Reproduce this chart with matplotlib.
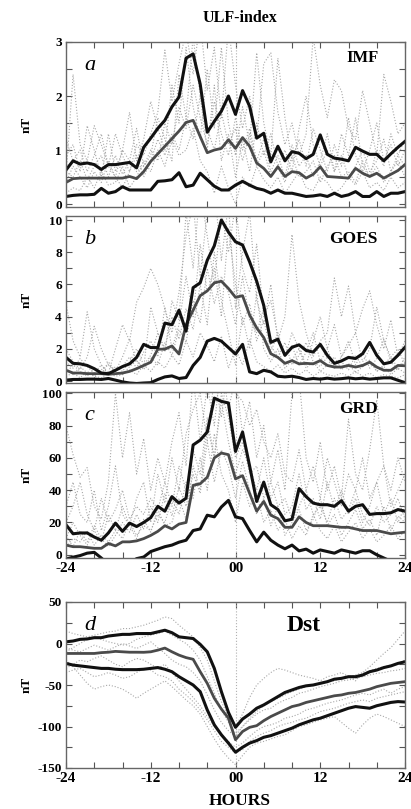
import numpy as np
import matplotlib
matplotlib.use("Agg")
import matplotlib.pyplot as plt
from matplotlib.ticker import MultipleLocator, FuncFormatter

plt.rcParams['font.family'] = ['Liberation Serif', 'DejaVu Serif']
plt.rcParams['axes.unicode_minus'] = False

hours = list(range(-24, 25))

# ---- panel a : IMF ----
imf_upper = [0.63, 0.80, 0.74, 0.76, 0.73, 0.64, 0.73, 0.73, 0.75, 0.77, 0.67, 1.05, 1.22, 1.40, 1.55, 1.80, 1.98,
             2.70, 2.78, 2.22, 1.33, 1.53, 1.72, 2.00, 1.66, 2.10, 1.81, 1.22, 1.31, 0.78, 1.07, 0.80, 0.97, 0.94,
             0.84, 0.92, 1.28, 0.92, 0.85, 0.83, 0.80, 1.05, 0.98, 0.92, 0.92, 0.80, 0.93, 1.05, 1.16]
imf_median = [0.40, 0.47, 0.48, 0.48, 0.48, 0.48, 0.48, 0.48, 0.48, 0.51, 0.47, 0.60, 0.79, 0.93, 1.07, 1.21, 1.35,
              1.51, 1.55, 1.25, 0.95, 1.00, 1.03, 1.19, 1.03, 1.23, 1.07, 0.76, 0.66, 0.51, 0.69, 0.51, 0.60, 0.58,
              0.48, 0.55, 0.69, 0.51, 0.50, 0.49, 0.48, 0.66, 0.57, 0.51, 0.57, 0.48, 0.55, 0.62, 0.73]
imf_lower = [0.14, 0.16, 0.17, 0.17, 0.18, 0.29, 0.20, 0.23, 0.32, 0.26, 0.26, 0.26, 0.26, 0.42, 0.43, 0.45, 0.58,
             0.32, 0.35, 0.57, 0.45, 0.33, 0.26, 0.26, 0.35, 0.42, 0.35, 0.29, 0.26, 0.20, 0.26, 0.20, 0.20, 0.17,
             0.14, 0.15, 0.17, 0.14, 0.20, 0.14, 0.17, 0.23, 0.14, 0.14, 0.23, 0.14, 0.20, 0.20, 0.23]
imf_ev1 = [0.5, 2.4, 1.1, 0.8, 1.45, 1.1, 0.7, 1.3, 0.9, 0.6, 1.1, 0.9, 1.3, 1.7, 2.85, 1.9, 2.6, 3.2, 2.4, 3.4,
           2.1, 2.9, 1.6, 3.3, 2.2, 1.4, 2.0, 1.2, 2.6, 2.8, 1.7, 1.1, 1.5, 0.9, 1.3, 3.1, 2.2, 1.6, 2.3, 2.1, 1.4,
           1.2, 2.1, 1.5, 0.9, 2.4, 1.9, 1.3, 1.5]
imf_ev2 = [0.9, 1.1, 0.6, 1.45, 1.0, 0.5, 1.3, 0.6, 1.0, 1.7, 0.8, 1.2, 1.9, 1.4, 1.0, 2.2, 1.5, 2.9, 1.8, 1.2,
           2.5, 1.4, 2.9, 1.5, 0.9, 1.8, 1.1, 2.8, 1.5, 0.9, 2.7, 1.6, 0.8, 1.2, 0.7, 1.4, 1.0, 0.6, 1.1, 0.7, 1.6,
           0.9, 0.6, 1.0, 1.5, 0.8, 1.1, 0.7, 1.0]
imf_ev3 = [0.2, 0.3, 0.25, 0.5, 0.3, 0.6, 0.35, 0.4, 0.7, 0.3, 0.5, 0.8, 0.6, 1.0, 0.7, 1.2, 0.9, 1.0, 1.4, 0.8,
           0.6, 0.2, 0.7, 0.3, 0.0, 0.5, 0.3, 0.7, 0.45, 0.3, 0.5, 0.2, 0.4, 0.6, 0.3, 0.25, 0.5, 0.4, 0.2, 0.3,
           0.5, 0.35, 0.6, 0.3, 0.4, 0.25, 0.5, 0.3, 0.4]
imf_ev4 = [0.6, 0.5, 0.8, 0.45, 0.7, 0.9, 0.5, 0.9, 0.55, 0.8, 0.6, 0.7, 1.0, 0.8, 1.5, 1.1, 1.8, 1.4, 2.2, 1.6,
           1.1, 1.9, 1.3, 0.9, 1.6, 1.0, 1.4, 0.8, 1.2, 0.6, 0.9, 0.5, 1.1, 0.7, 0.9, 0.5, 0.8, 1.3, 0.6, 0.9, 0.5,
           0.7, 1.0, 0.6, 0.8, 1.2, 0.6, 0.9, 0.7]
imf_ev5 = [0.4, 0.7, 0.5, 0.3, 0.6, 0.4, 0.8, 0.5, 0.3, 0.6, 0.9, 0.5, 0.8, 1.2, 0.9, 1.3, 1.0, 1.6, 1.2, 2.0,
           1.4, 1.0, 1.7, 1.1, 1.4, 0.8, 1.3, 0.7, 1.0, 0.5, 0.7, 0.4, 0.9, 0.5, 0.6, 0.8, 0.4, 0.7, 0.9, 0.5, 0.6,
           0.4, 0.8, 0.5, 0.7, 0.4, 0.6, 0.8, 0.5]
imf_ev6 = [1.2, 0.8, 1.0, 0.6, 0.9, 1.3, 0.7, 0.5, 1.0, 0.8, 1.4, 0.7, 0.9, 1.6, 1.2, 0.8, 2.4, 1.6, 3.1, 2.0,
           1.0, 2.2, 0.8, 1.3, 0.5, 1.2, 0.6, 1.5, 0.9, 1.3, 0.7, 1.0, 0.6, 1.4, 2.0, 1.1, 0.7, 1.0, 0.6, 1.3, 0.9,
           1.6, 0.7, 0.5, 1.0, 0.7, 1.3, 0.9, 1.2]

# ---- panel b : GOES ----
goes_upper = [1.47, 1.10, 1.07, 0.97, 0.77, 0.50, 0.46, 0.67, 0.90, 1.07, 1.47, 2.28, 2.08, 2.08, 3.60, 3.50, 4.40,
              3.10, 5.80, 6.10, 7.50, 8.40, 10.0, 9.25, 8.65, 8.45, 7.40, 6.20, 4.70, 2.40, 2.60, 1.60, 2.10, 2.25,
              1.90, 1.80, 2.28, 1.60, 1.10, 1.25, 1.47, 1.40, 1.70, 2.40, 1.60, 1.07, 1.17, 1.60, 2.10]
goes_median = [0.67, 0.50, 0.50, 0.46, 0.46, 0.46, 0.42, 0.46, 0.50, 0.60, 0.77, 0.97, 1.17, 1.98, 1.98, 2.18, 1.68,
               3.50, 4.40, 5.30, 5.60, 6.10, 6.20, 5.75, 5.20, 5.30, 4.10, 3.30, 2.70, 1.70, 1.47, 1.10, 1.27, 1.07,
               1.10, 1.07, 1.27, 0.97, 0.87, 0.87, 0.97, 0.87, 0.97, 1.17, 0.87, 0.67, 0.67, 0.97, 0.95]
goes_lower = [0.06, 0.10, 0.10, 0.12, 0.12, 0.10, 0.16, 0.06, -0.05, -0.12, -0.15, -0.12, -0.10, 0.10, 0.26, 0.32,
              0.16, 0.22, 0.97, 1.47, 2.48, 2.65, 2.48, 2.08, 1.68, 2.28, 0.57, 0.46, 0.67, 0.57, 0.30, 0.26, 0.30,
              0.22, 0.10, 0.16, 0.12, 0.18, 0.12, 0.15, 0.20, 0.14, 0.18, 0.12, 0.16, 0.20, 0.20, 0.05, -0.10]
goes_ev1 = [4.8, 2.5, 1.5, 4.3, 2.0, 1.0, 0.5, 2.0, 3.5, 2.5, 4.9, 5.8, 7.0, 6.0, 4.5, 3.0, 5.5, 9.0, 11.0, 6.5,
            10.5, 12.0, 7.5, 11.0, 4.5, 8.0, 10.5, 5.0, 3.5, 6.0, 2.5, 4.0, 9.1, 5.0, 3.0, 1.5, 2.5, 3.0, 6.4, 4.0,
            5.9, 3.0, 4.5, 5.6, 3.5, 2.0, 3.8, 1.5, 2.5]
goes_ev2 = [0.5, 1.0, 0.6, 0.3, 0.8, 0.4, 1.2, 0.6, 0.9, 1.5, 0.8, 1.8, 2.5, 1.5, 4.6, 2.0, 3.5, 6.5, 4.0, 8.5,
            5.5, 7.0, 4.0, 9.5, 6.0, 3.5, 4.8, 2.5, 3.8, 1.8, 3.0, 1.5, 2.2, 1.0, 1.8, 3.0, 1.2, 2.0, 0.9, 1.5, 2.5,
            1.0, 1.8, 0.8, 1.4, 2.6, 1.2, 0.7, 1.5]
goes_ev3 = [1.2, 0.8, 1.4, 0.9, 0.5, 1.0, 0.4, 0.9, 0.6, 1.2, 2.0, 1.0, 1.6, 3.0, 2.0, 4.0, 2.6, 4.5, 3.2, 6.0,
            3.5, 8.0, 5.0, 3.0, 1.0, 4.0, 2.0, 5.5, 2.0, 1.2, 2.0, 0.8, 1.3, 2.0, 0.8, 1.2, 0.6, 1.0, 1.5, 0.7, 1.1,
            0.5, 0.9, 1.3, 0.6, 0.9, 0.4, 0.8, 0.5]
goes_ev4 = [0.3, 0.5, 0.2, 0.6, 0.3, 0.2, 0.5, 0.3, 0.4, 0.7, 0.4, 1.0, 0.6, 1.2, 0.8, 1.6, 1.0, 2.5, 1.5, 3.0,
            2.2, 1.2, 2.8, 0.8, 2.0, 1.0, 2.6, 1.2, 0.9, 0.6, 1.0, 0.5, 0.8, 0.4, 0.7, 0.3, 0.6, 0.4, 0.3, 0.5, 0.3,
            0.6, 0.3, 0.5, 0.2, 0.4, 0.3, 0.2, 0.4]
goes_ev5 = [0.8, 0.4, 0.9, 0.5, 0.3, 0.7, 1.0, 0.6, 0.4, 0.9, 1.3, 0.7, 1.5, 1.0, 2.4, 1.6, 3.2, 2.4, 5.0, 3.6,
            7.0, 4.8, 6.5, 5.5, 3.5, 6.5, 3.8, 3.0, 4.5, 2.2, 1.5, 2.4, 1.0, 1.6, 2.4, 1.2, 0.9, 1.5, 0.8, 1.2, 0.7,
            1.6, 0.9, 1.3, 0.6, 1.0, 1.5, 0.8, 1.2]
goes_ev6 = [2.0, 1.2, 0.7, 1.5, 3.4, 2.0, 1.0, 0.6, 1.5, 2.6, 1.2, 0.8, 4.6, 3.0, 1.8, 5.0, 3.8, 10.5, 7.0, 12.0,
            9.0, 6.0, 10.5, 8.0, 11.0, 7.0, 5.5, 8.5, 4.0, 5.0, 2.8, 1.5, 3.0, 2.0, 1.0, 2.5, 4.0, 2.0, 3.5, 1.5, 2.2,
            3.0, 1.2, 2.0, 4.6, 2.5, 1.5, 2.0, 1.0]

# ---- panel c : GRD ----
grd_upper = [18.6, 13, 13.5, 13.5, 11, 9, 13.5, 19.6, 14.5, 19.6, 17.5, 20, 23, 30, 27, 36, 32, 35, 68, 71, 76, 97,
             95, 94, 64, 76, 55, 33, 45, 31, 28, 21, 22, 41, 36, 32, 31, 31, 30, 33.5, 27, 30, 31, 25, 25.5, 25.5,
             26, 28, 27]
grd_median = [6, 5, 5, 4.5, 4, 4, 7, 5.5, 8, 8, 8.6, 10, 12, 14.5, 18, 16, 19, 20, 43, 44, 48, 60, 63, 62, 47, 49,
              38, 27, 33, 24.5, 22.4, 17, 17, 23.5, 20, 18, 18, 18, 17.5, 17, 17, 16, 15, 15, 15, 14, 13, 13.5, 14]
grd_lower = [-2.6, -1.5, -0.5, 1, 1.5, -2, -6, -8, -7, -5, -2.4, -1.4, 2, 3.5, 5, 6, 7.8, 9, 15, 16, 24.5, 23.5,
             29.6, 33.7, 23.5, 22.4, 15, 8, 14, 9, 6, 3.7, 6, 2.4, 3.5, 1, 3, 2, 1, 3, 2, 1, 2.5, 2.5, 0, -2, -4,
             -4.5, -4]
grd_ev1 = [80, 62, 48, 54, 30, 22, 45, 100, 60, 88, 50, 72, 40, 60, 45, 70, 88, 55, 110, 70, 105, 80, 120, 90, 110,
           75, 95, 60, 80, 45, 65, 40, 100, 110, 60, 45, 70, 40, 55, 35, 84, 50, 40, 65, 96, 55, 40, 60, 45]
grd_ev2 = [20, 30, 45, 25, 15, 35, 20, 28, 40, 22, 30, 25, 35, 28, 45, 30, 55, 40, 65, 50, 85, 60, 95, 70, 50, 65,
           55, 40, 60, 35, 45, 25, 30, 50, 28, 35, 22, 45, 28, 40, 25, 35, 20, 30, 45, 25, 35, 20, 30]
grd_ev3 = [5, 10, 8, 15, 6, 12, 8, 15, 10, 20, 12, 18, 15, 25, 20, 35, 25, 45, 35, 60, 40, 75, 50, 40, 20, 45, 30,
           38, 20, 28, 15, 22, 10, 18, 12, 25, 15, 10, 18, 8, 14, 20, 10, 16, 8, 12, 18, 10, 15]
grd_ev4 = [12, 5, 15, 8, 18, 10, 5, 12, 20, 14, 25, 16, 30, 20, 38, 24, 42, 30, 50, 38, 70, 45, 65, 55, 35, 58, 40,
           25, 35, 18, 30, 12, 20, 28, 15, 22, 35, 18, 25, 12, 20, 28, 16, 22, 12, 30, 15, 24, 20]
grd_ev5 = [10, 20, 12, 6, 15, 8, 25, 15, 30, 18, 10, 22, 14, 28, 18, 20, 35, 22, 55, 40, 80, 60, 100, 85, 60, 70,
           50, 55, 35, 45, 30, 35, 22, 30, 40, 25, 30, 20, 35, 22, 28, 40, 25, 18, 30, 20, 25, 35, 22]
grd_ev6 = [30, 45, 25, 20, 40, 15, 30, 55, 25, 18, 35, 45, 20, 50, 32, 60, 40, 75, 90, 100, 70, 110, 85, 120, 100,
           95, 80, 90, 70, 60, 75, 50, 45, 65, 40, 55, 35, 60, 45, 30, 50, 40, 60, 35, 45, 55, 30, 40, 50]

# ---- panel d : Dst ----
dst_upper = [2, 3, 5, 5.5, 7, 7, 9, 10, 11, 11, 12, 12, 12, 14, 16, 13, 8, 7, 6, -1, -10, -30, -58, -83, -101, -91,
             -85, -78, -74, -69, -64, -59, -56, -53, -51, -50, -48, -46, -43, -42, -40, -40, -38, -34, -32, -29, -27,
             -24, -22]
dst_median = [-12, -12, -12, -12, -12, -11, -10.5, -9.5, -10, -10.5, -10.5, -10.6, -10, -8, -5.5, -10, -14, -17,
              -19, -34, -48, -66, -79, -90, -116, -106, -101, -99, -93, -88, -84, -80, -76, -74, -71, -69, -67, -65,
              -63, -62, -60, -59, -57, -55, -52, -50, -48, -47, -46]
dst_lower = [-24, -26, -27, -28, -29, -30, -30, -31, -31.5, -31.5, -31.5, -31, -30, -29, -31, -34, -40, -45, -50,
             -58, -80, -98, -110, -120, -131, -125, -120, -117, -113, -111, -108, -105, -102, -98, -95, -92, -90,
             -87, -84, -81, -78, -76, -77, -78, -75, -73, -71, -70, -70.5]
dst_ev1 = [15, 12, 10, 8, 10, 12, 14, 15, 18, 18, 20, 22, 25, 28, 32, 30, 22, 15, 8, -5, -20, -45, -70, -88, -100,
           -85, -65, -50, -42, -35, -30, -32, -35, -38, -40, -42, -45, -40, -38, -35, -40, -45, -35, -28, -20, -12,
           -5, 5, 15]
dst_ev2 = [-20, -28, -38, -48, -55, -52, -50, -52, -55, -60, -66, -60, -55, -50, -45, -52, -60, -68, -75, -85, -100,
           -115, -128, -138, -146, -135, -125, -120, -118, -115, -112, -110, -105, -100, -98, -95, -92, -90, -88,
           -95, -102, -108, -98, -90, -85, -88, -92, -96, -100]
dst_ev3 = [-5, -8, -10, -6, -2, -5, -8, -4, 0, -3, -6, -2, 2, -5, -12, -20, -25, -28, -35, -45, -62, -80, -95, -105,
           -112, -100, -92, -85, -80, -78, -72, -68, -65, -60, -58, -55, -52, -50, -48, -45, -44, -42, -40, -38, -36,
           -35, -33, -32, -30]
dst_ev4 = [-30, -25, -20, -22, -18, -15, -20, -25, -28, -22, -18, -20, -25, -30, -25, -35, -45, -55, -65, -75, -88,
           -100, -110, -118, -125, -120, -112, -105, -100, -98, -95, -90, -88, -85, -80, -78, -75, -72, -70, -68,
           -65, -62, -60, -62, -58, -55, -60, -55, -52]
dst_ev5 = [-10, -5, 0, 5, 8, 5, 2, 0, -2, 0, 5, 8, 10, 12, 15, 10, 5, 0, -8, -20, -40, -60, -80, -95, -108, -100,
           -90, -82, -75, -70, -66, -62, -58, -55, -52, -50, -48, -46, -45, -42, -40, -38, -35, -33, -30, -28, -26,
           -24, -20]
dst_ev6 = [-35, -32, -30, -35, -40, -38, -35, -38, -42, -40, -35, -30, -32, -38, -40, -45, -55, -62, -70, -80, -92,
           -105, -118, -125, -132, -128, -118, -112, -108, -105, -100, -97, -95, -92, -90, -86, -82, -80, -78, -75,
           -72, -70, -68, -70, -66, -64, -62, -60, -58]

fig = plt.figure(figsize=(4.11, 8.09), dpi=100)

W, H = 411.0, 809.0


def make_axes(top, bottom):
    return fig.add_axes([66 / W, 1 - bottom / H, 339 / W, (bottom - top) / H])


def draw_panel(ax, upper, median, lower, events, ylim, major, minor, letter, name, name_xy, name_size):
    for ev in events:
        ax.plot(hours, ev, color='#a8a8a8', lw=0.8, ls=':')
    ax.axvline(0, color='#b0b0b0', lw=0.8, ls=':')
    ax.plot(hours, median, color='#4a4a4a', lw=2.0)
    ax.plot(hours, upper, color='#111111', lw=2.2)
    ax.plot(hours, lower, color='#111111', lw=2.2)
    ax.set_xlim(-24, 24)
    ax.set_ylim(*ylim)
    ax.xaxis.set_major_locator(MultipleLocator(12))
    ax.xaxis.set_minor_locator(MultipleLocator(4))
    ax.yaxis.set_major_locator(MultipleLocator(major))
    ax.yaxis.set_minor_locator(MultipleLocator(minor))
    ax.tick_params(which='both', direction='in', top=True, right=True, color='#555555')
    ax.tick_params(which='both', length=4, width=0.8)
    ax.tick_params(axis='y', labelsize=9.5, pad=3)
    ax.tick_params(axis='x', labelsize=11, pad=3)
    for lab in ax.get_yticklabels():
        lab.set_fontweight('bold')
    for s in ax.spines.values():
        s.set_color('#666666')
        s.set_linewidth(1.0)
    ax.set_ylabel('nT', fontsize=9.5, fontweight='bold')
    ax.yaxis.set_label_coords(-0.1, 0.5)
    ax.text(0.07, 0.86, letter, transform=ax.transAxes, fontsize=16, fontstyle='italic',
            ha='center', va='center')
    ax.text(name_xy[0], name_xy[1], name, transform=ax.transAxes, fontsize=name_size,
            fontweight='bold', ha='center', va='center')


hour_fmt = FuncFormatter(lambda v, p: '00' if v == 0 else '%d' % v)

ax_a = make_axes(42, 207)
draw_panel(ax_a, imf_upper, imf_median, imf_lower,
           [imf_ev1, imf_ev2, imf_ev3, imf_ev4, imf_ev5, imf_ev6],
           (-0.055, 3.0), 1, 0.5, 'a', 'IMF', (0.876, 0.9), 12)
ax_a.tick_params(axis='x', labelbottom=False)

ax_b = make_axes(216, 383)
draw_panel(ax_b, goes_upper, goes_median, goes_lower,
           [goes_ev1, goes_ev2, goes_ev3, goes_ev4, goes_ev5, goes_ev6],
           (-0.12, 10.25), 2, 1, 'b', 'GOES', (0.847, 0.86), 12.5)
ax_b.tick_params(axis='x', labelbottom=False)

ax_c = make_axes(392, 558)
draw_panel(ax_c, grd_upper, grd_median, grd_lower,
           [grd_ev1, grd_ev2, grd_ev3, grd_ev4, grd_ev5, grd_ev6],
           (-2.0, 100.8), 20, 10, 'c', 'GRD', (0.862, 0.9), 12.5)
ax_c.xaxis.set_major_formatter(hour_fmt)

ax_d = make_axes(602, 768)
draw_panel(ax_d, dst_upper, dst_median, dst_lower,
           [dst_ev1, dst_ev2, dst_ev3, dst_ev4, dst_ev5, dst_ev6],
           (-150, 50), 50, 25, 'd', 'Dst', (0.70, 0.86), 17)
ax_d.xaxis.set_major_formatter(hour_fmt)

for ax in (ax_c, ax_d):
    labs = ax.get_xticklabels()
    for lab in labs:
        lab.set_fontweight('bold')
    # last label sits on the right border, keep it inside the figure
    labs[-1].set_horizontalalignment('right')

fig.text(240 / W, 1 - 18 / H, 'ULF-index', fontsize=11.5, fontweight='bold', ha='center', va='center')
fig.text(240 / W, 1 - 801 / H, 'HOURS', fontsize=12.5, fontweight='bold', ha='center', va='center')

fig.savefig('out.png', dpi=100)
